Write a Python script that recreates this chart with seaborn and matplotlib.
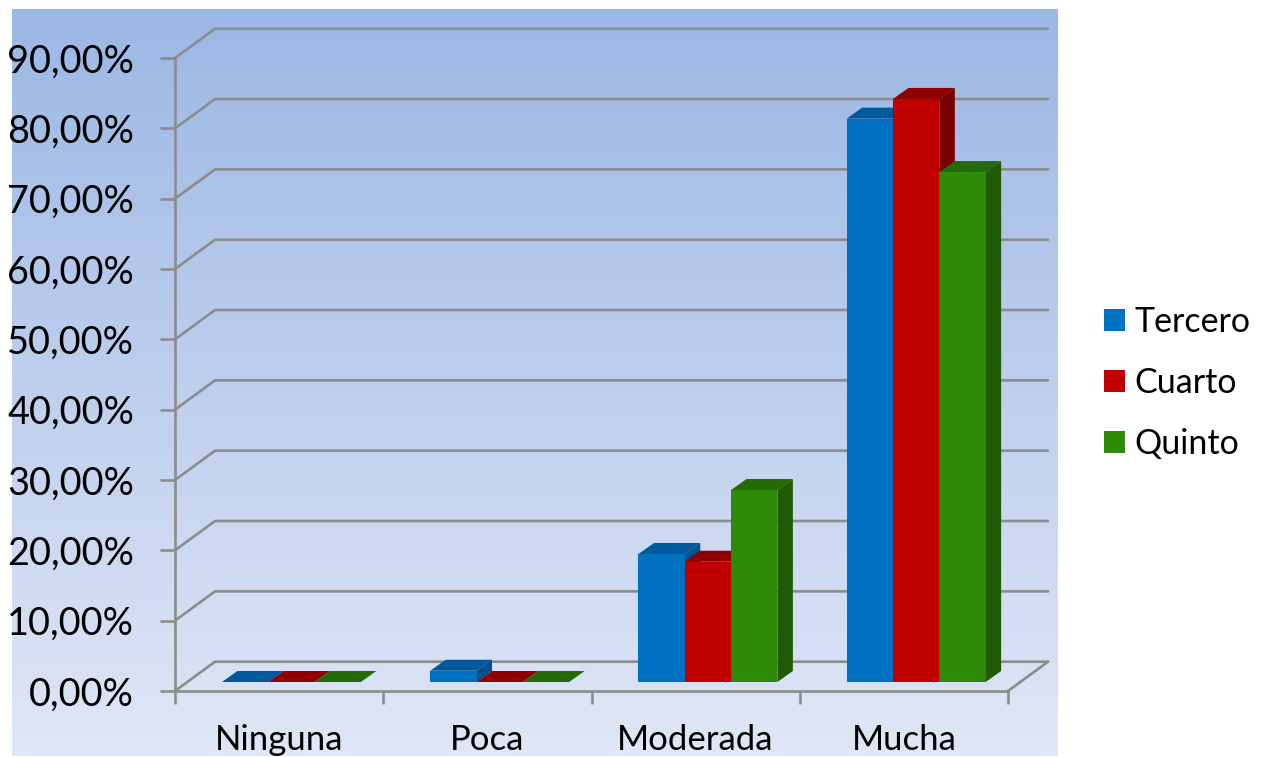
import numpy as np
import pandas as pd
import seaborn as sns
import matplotlib
matplotlib.use("Agg")
import matplotlib.pyplot as plt
from matplotlib.patches import Patch, Polygon
from matplotlib.colors import LinearSegmentedColormap

categories = ["Ninguna", "Poca", "Moderada", "Mucha"]
tercero = [0, 1.6, 18.2, 80.1]
cuarto = [0, 0, 17.1, 82.9]
quinto = [0, 0, 27.3, 72.5]
y_ticks = [0, 10, 20, 30, 40, 50, 60, 70, 80, 90]
y_labels = ["0,00%", "10,00%", "20,00%", "30,00%", "40,00%", "50,00%", "60,00%", "70,00%", "80,00%", "90,00%"]
series = ["Tercero", "Cuarto", "Quinto"]

front = ["#0070C0", "#C00000", "#2E8B0A"]
top = ["#00599A", "#8F0000", "#246B07"]
side = ["#00508A", "#7A0000", "#1F5A04"]
grid_color = "#8C8C8C"
line_w = 1.9

df = pd.DataFrame({
    "categoria": categories * 3,
    "curso": np.repeat(series, 4),
    "valor": tercero + cuarto + quinto,
})

W, H = 1261, 757
sns.set_style("white")
plt.rcParams["font.family"] = ["Lato", "DejaVu Sans"]

fig = plt.figure(figsize=(W / 100, H / 100), dpi=100, facecolor="white")


def px_axes(x0, y0, x1, y1):
    # pixel box measured from the top left of the image
    return fig.add_axes([x0 / W, 1 - y1 / H, (x1 - x0) / W, (y1 - y0) / H])


# gradient panel behind the plot
bg = px_axes(12, 9, 1058, 756)
bg_cmap = LinearSegmentedColormap.from_list("panel", ["#9BB7E5", "#E0E7F6"])
bg.imshow(np.linspace(0, 1, 256).reshape(-1, 1), aspect="auto", cmap=bg_cmap)
bg.axis("off")

# walls and floor
ax = px_axes(175, 58, 1008, 691)
ax.patch.set_alpha(0)
ax.set_xlim(-0.5, 3.5)
ax.set_ylim(0, 90)
per_cat = 833 / 4
per_pct = 633 / 90
wall_dx = 40 / per_cat
wall_dy = 29.3 / per_pct

for v in y_ticks:
    ax.plot([-0.5, -0.5 + wall_dx, 3.5 + wall_dx], [v, v + wall_dy, v + wall_dy],
            color=grid_color, lw=line_w, clip_on=False, zorder=1, solid_joinstyle="miter")
ax.plot([3.5, 3.5 + wall_dx], [0, wall_dy], color=grid_color, lw=line_w, clip_on=False, zorder=1)

for s in ["top", "right"]:
    ax.spines[s].set_visible(False)
for s in ["left", "bottom"]:
    ax.spines[s].set_color(grid_color)
    ax.spines[s].set_linewidth(line_w)
ax.set_yticks(y_ticks)
ax.set_yticklabels(y_labels, fontsize=27.3, color="black")
ax.set_xticks(np.arange(-0.5, 4, 1))
ax.set_xticks(np.arange(4), categories, minor=True, fontsize=25, color="black")
ax.set_xticklabels([])
ax.tick_params(axis="y", left=True, length=10.5, width=line_w, color=grid_color, pad=19)
ax.tick_params(axis="x", which="major", bottom=True, length=9, width=line_w, color=grid_color)
ax.tick_params(axis="x", which="minor", bottom=False, pad=22)
ax.set_xlabel("")
ax.set_ylabel("")

# bars sit on their own layer, pushed onto the floor
bars = px_axes(175 + 12.3, 58 - 9, 1008 + 12.3, 691 - 9)
bars.patch.set_alpha(0)
sns.barplot(data=df, x="categoria", y="valor", hue="curso", order=categories, hue_order=series,
            palette=front, saturation=1, width=0.667, gap=0, legend=False, linewidth=0, ax=bars)
bars.set_xlim(-0.5, 3.5)
bars.set_ylim(0, 90)
bars.axis("off")

depth_x = 15.5 / per_cat
depth_y = 11 / per_pct
for i, container in enumerate(bars.containers):
    for p in container.patches:
        p.set_zorder(3 + i + 0.5)
        x0, x1 = p.get_x(), p.get_x() + p.get_width()
        h = p.get_height()
        bars.add_patch(Polygon([(x0, h), (x0 + depth_x, h + depth_y), (x1 + depth_x, h + depth_y), (x1, h)],
                               closed=True, fc=top[i], ec="none", zorder=3 + i, clip_on=False))
        if h > 0:
            bars.add_patch(Polygon([(x1, 0), (x1 + depth_x, depth_y), (x1 + depth_x, h + depth_y), (x1, h)],
                                   closed=True, fc=side[i], ec="none", zorder=3 + i, clip_on=False))

handles = [Patch(fc=c, ec="none") for c in front]
fig.legend(handles, series, loc="center left", bbox_to_anchor=(1087 / W, 1 - 383 / H), frameon=False,
           fontsize=24.5, labelcolor="black", handlelength=0.617, handleheight=0.617, handletextpad=0.27,
           labelspacing=0.86, borderpad=0, borderaxespad=0.5)

fig.savefig("out.png", dpi=100, facecolor="white")
